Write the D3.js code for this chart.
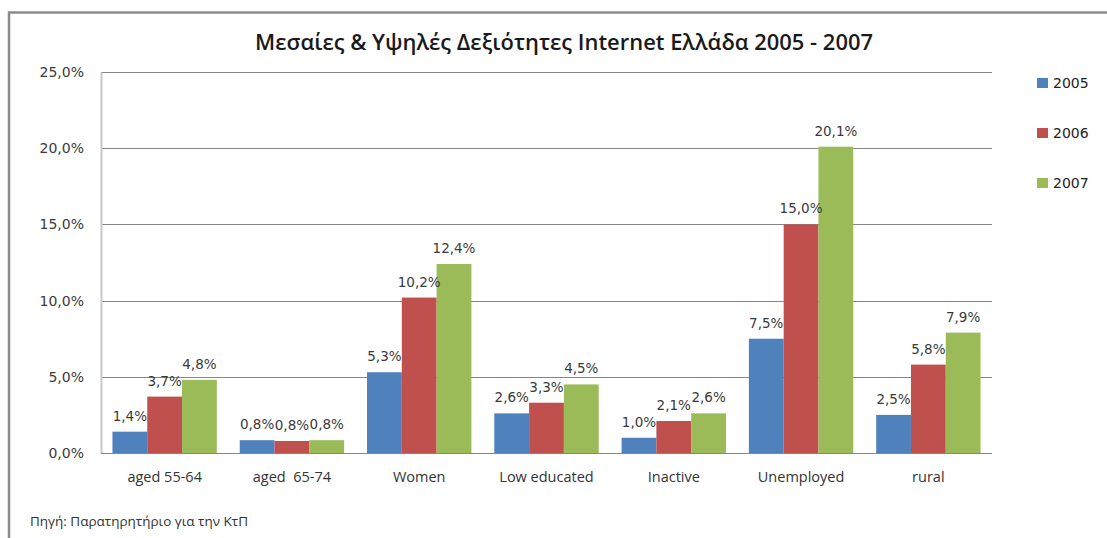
<!DOCTYPE html>
<html>
<head>
<meta charset="utf-8">
<script src="https://cdn.jsdelivr.net/npm/d3@7"></script>
<style>
  body { margin: 0; background: #fff; }
  svg { display: block; font-family: "Open Sans", "DejaVu Sans", sans-serif; }
</style>
</head>
<body>
<svg id="svg"></svg>
<script>
const categories = ["aged 55-64", "aged  65-74", "Women", "Low educated", "Inactive", "Unemployed", "rural"];
const years = ["2005", "2006", "2007"];
const v2005 = [1.4, 0.84, 5.3, 2.6, 1.0, 7.5, 2.5];
const v2006 = [3.7, 0.79, 10.2, 3.3, 2.1, 15.0, 5.8];
const v2007 = [4.8, 0.84, 12.4, 4.5, 2.6, 20.1, 7.9];
const yTicks = [0, 5, 10, 15, 20, 25];
const colors = ["#4F81BD", "#C0504D", "#9BBB59"];

const width = 1107;
const height = 538;
const series = [v2005, v2006, v2007];
const numFont = '"DejaVu Sans", sans-serif';

const svg = d3.select('#svg')
  .attr('width', width)
  .attr('height', height);

// outer chart frame (only top and left edges visible)
svg.append('path')
  .attr('d', 'M9,538 V12.5 H1107')
  .attr('fill', 'none')
  .attr('stroke', '#8c8c8c')
  .attr('stroke-width', 2.5);

svg.append('text')
  .attr('x', 564)
  .attr('y', 50)
  .attr('text-anchor', 'middle')
  .attr('font-size', 21)
  .attr('font-weight', 600)
  .attr('fill', '#1a1a1a')
  .attr('textLength', 618)
  .attr('lengthAdjust', 'spacingAndGlyphs')
  .text('Μεσαίες & Υψηλές Δεξιότητες Internet Ελλάδα 2005 - 2007');

const plot = { left: 101, right: 992, top: 72, bottom: 453 };

const y = d3.scaleLinear()
  .domain([0, 25])
  .range([plot.bottom, plot.top]);

const x0 = d3.scaleBand()
  .domain(categories)
  .range([plot.left, plot.right])
  .paddingInner(0.18)
  .paddingOuter(0.09);

const x1 = d3.scaleBand()
  .domain(years)
  .range([0, x0.bandwidth()]);

const fmt = (d) => d.toFixed(1).replace('.', ',') + '%';

// gridlines
svg.append('g')
  .selectAll('line')
  .data(yTicks.filter(d => d > 0))
  .join('line')
  .attr('x1', plot.left)
  .attr('x2', plot.right)
  .attr('y1', d => Math.round(y(d)) + 0.5)
  .attr('y2', d => Math.round(y(d)) + 0.5)
  .attr('stroke', '#868686')
  .attr('stroke-width', 1);

// y axis labels
const yAxis = d3.axisLeft(y)
  .tickValues(yTicks)
  .tickSize(0)
  .tickPadding(17)
  .tickFormat(fmt);

const gy = svg.append('g')
  .attr('transform', `translate(${plot.left},0)`)
  .call(yAxis)
  .attr('font-family', numFont)
  .attr('font-size', 14);
gy.select('.domain').attr('stroke', '#c8c8c8').attr('stroke-width', 2);
gy.selectAll('text').attr('fill', '#3a3a3a');

// bars
const groups = svg.append('g')
  .selectAll('g')
  .data(categories)
  .join('g')
  .attr('transform', d => `translate(${x0(d)},0)`);

groups.selectAll('rect')
  .data((c, i) => years.map((yr, j) => ({ yr, j, v: series[j][i] })))
  .join('rect')
  .attr('x', d => x1(d.yr))
  .attr('width', x1.bandwidth())
  .attr('y', d => y(d.v))
  .attr('height', d => plot.bottom - y(d.v))
  .attr('fill', d => colors[d.j]);

groups.selectAll('text.lbl')
  .data((c, i) => years.map((yr, j) => ({ yr, j, v: series[j][i] })))
  .join('text')
  .attr('class', 'lbl')
  .attr('x', d => x1(d.yr) + x1.bandwidth() / 2)
  .attr('y', d => y(d.v) - 11)
  .attr('text-anchor', 'middle')
  .attr('font-size', 13.5)
  .attr('font-family', numFont)
  .attr('fill', '#3a3a3a')
  .text(d => fmt(d.v));

// x axis baseline
svg.append('line')
  .attr('x1', plot.left)
  .attr('x2', plot.right)
  .attr('y1', plot.bottom + 0.5)
  .attr('y2', plot.bottom + 0.5)
  .attr('stroke', '#868686');

const xAxis = d3.axisBottom(x0).tickSize(0).tickPadding(19);
const gx = svg.append('g')
  .attr('transform', `translate(0,${plot.bottom})`)
  .call(xAxis)
  .attr('font-family', '"Open Sans", sans-serif')
  .attr('font-size', 14.5);
gx.select('.domain').remove();
gx.selectAll('text')
  .attr('fill', '#333')
  .style('white-space', 'pre');

// legend
const legend = svg.append('g')
  .selectAll('g')
  .data(years)
  .join('g')
  .attr('transform', (d, i) => `translate(1037,${83 + i * 50})`);

legend.append('rect')
  .attr('x', 0)
  .attr('y', -5)
  .attr('width', 11)
  .attr('height', 10)
  .attr('fill', (d, i) => colors[i]);

legend.append('text')
  .attr('x', 16)
  .attr('y', 5)
  .attr('font-size', 14)
  .attr('font-family', numFont)
  .attr('fill', '#222')
  .text(d => d);

svg.append('text')
  .attr('x', 30)
  .attr('y', 526)
  .attr('font-size', 13.5)
  .attr('fill', '#333')
  .text('Πηγή: Παρατηρητήριο για την ΚτΠ');
</script>
</body>
</html>
